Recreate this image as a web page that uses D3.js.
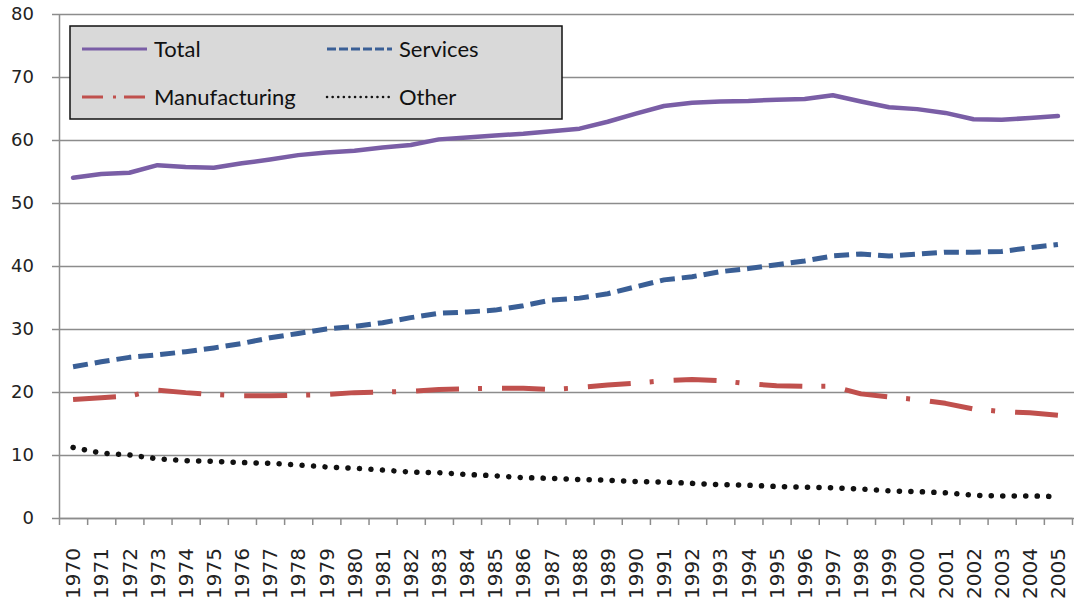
<!DOCTYPE html>
<html>
<head>
<meta charset="utf-8">
<script src="https://cdn.jsdelivr.net/npm/d3@7"></script>
<style>
  html, body { margin: 0; padding: 0; background: #fff; }
  svg { display: block; }
</style>
</head>
<body>
<div id="chart"></div>
<script>
(function() {
  var years = d3.range(1970, 2006).map(String);

  var total = [54.0, 54.6, 54.8, 56.0, 55.7, 55.6, 56.3, 56.9, 57.6, 58.0, 58.3, 58.8,
               59.2, 60.1, 60.4, 60.7, 61.0, 61.4, 61.8, 62.9, 64.2, 65.4, 65.9, 66.1,
               66.2, 66.4, 66.5, 67.1, 66.1, 65.2, 64.9, 64.3, 63.3, 63.2, 63.5, 63.8];
  var services = [24.0, 24.8, 25.5, 25.9, 26.4, 27.0, 27.7, 28.6, 29.3, 30.0, 30.4, 31.0,
                  31.8, 32.5, 32.7, 33.0, 33.7, 34.6, 34.9, 35.6, 36.7, 37.8, 38.3, 39.1,
                  39.6, 40.2, 40.8, 41.6, 41.9, 41.6, 41.9, 42.2, 42.2, 42.3, 42.9, 43.4];
  var manufacturing = [18.8, 19.1, 19.4, 20.3, 19.9, 19.6, 19.4, 19.4, 19.5, 19.6, 19.9, 20.0,
                       20.1, 20.4, 20.5, 20.6, 20.6, 20.4, 20.7, 21.1, 21.4, 21.8, 22.0, 21.8,
                       21.3, 21.0, 20.9, 20.9, 19.7, 19.2, 18.8, 18.2, 17.3, 16.9, 16.7, 16.3];
  var other = [11.2, 10.3, 10.0, 9.4, 9.1, 9.0, 8.8, 8.7, 8.4, 8.1, 7.9, 7.6,
               7.3, 7.2, 6.9, 6.7, 6.4, 6.3, 6.1, 6.0, 5.8, 5.7, 5.5, 5.3,
               5.2, 5.0, 4.9, 4.8, 4.6, 4.3, 4.2, 4.0, 3.6, 3.5, 3.5, 3.4];
  var yTicks = [0, 10, 20, 30, 40, 50, 60, 70, 80];

  var series = [
    { name: "Total", values: total, color: "#7a5ea6", dash: null, cap: "round", width: 4.5 },
    { name: "Services", values: services, color: "#3a5f96", dash: "15,7", cap: "butt", width: 5 },
    { name: "Manufacturing", values: manufacturing, color: "#c0504d", dash: "43,19,4,20", cap: "butt", width: 5 },
    { name: "Other", values: other, color: "#111", dash: "0.1,11.4", cap: "round", width: 5.5 }
  ];

  var width = 1076, height = 605,
      left = 59, right = 1072, top = 14, bottom = 518;

  var svg = d3.select("#chart").append("svg")
      .attr("width", width)
      .attr("height", height);

  var x = d3.scaleBand().domain(years).range([left, right]);
  var xEdge = d3.scaleLinear().domain([0, years.length]).range([left, right]);
  var y = d3.scaleLinear().domain([0, 80]).range([bottom, top]);

  // gridlines
  svg.append("g")
      .attr("transform", "translate(" + left + ",0)")
      .call(d3.axisLeft(y).tickValues(yTicks).tickSize(-(right - left + 2)).tickFormat(""))
      .call(g => g.select(".domain").remove())
      .call(g => g.selectAll("line").attr("stroke", "#8c8c8c").attr("stroke-width", 1.5));

  // y axis
  svg.append("g")
      .attr("transform", "translate(" + left + ",0)")
      .call(d3.axisLeft(y).tickValues(yTicks).tickSize(7).tickPadding(18).tickSizeOuter(0))
      .call(g => g.select(".domain").attr("stroke", "#8c8c8c").attr("stroke-width", 1.5))
      .call(g => g.selectAll("line").attr("stroke", "#8c8c8c").attr("stroke-width", 1.5))
      .call(g => g.selectAll("text")
          .attr("font-family", "DejaVu Sans, sans-serif")
          .attr("font-size", "18px")
          .attr("fill", "#222"));

  // x axis tick marks at category edges
  svg.append("g")
      .attr("transform", "translate(0," + bottom + ")")
      .call(d3.axisBottom(xEdge).tickValues(d3.range(0, years.length + 1)).tickFormat("").tickSize(7).tickSizeOuter(0))
      .call(g => g.select(".domain").attr("stroke", "#8c8c8c").attr("stroke-width", 1.5))
      .call(g => g.selectAll("line").attr("stroke", "#8c8c8c").attr("stroke-width", 1.5));

  // x labels, rotated
  svg.append("g")
    .selectAll("text")
    .data(years)
    .join("text")
      .attr("transform", d => "translate(" + (x(d) + x.bandwidth() / 2) + ",548) rotate(-90)")
      .attr("text-anchor", "end")
      .attr("dy", "0.36em")
      .attr("font-family", "DejaVu Sans, sans-serif")
      .attr("font-size", "20px")
      .attr("fill", "#222")
      .text(d => d);

  var line = d3.line()
      .x((d, i) => x(years[i]) + x.bandwidth() / 2)
      .y(d => y(d));

  svg.append("g")
    .selectAll("path")
    .data(series)
    .join("path")
      .attr("d", d => line(d.values))
      .attr("fill", "none")
      .attr("stroke", d => d.color)
      .attr("stroke-width", d => d.width)
      .attr("stroke-dasharray", d => d.dash)
      .attr("stroke-linecap", d => d.cap)
      .attr("stroke-linejoin", "round");

  // legend
  var legend = svg.append("g").attr("transform", "translate(70,26)");
  legend.append("rect")
      .attr("width", 492)
      .attr("height", 93)
      .attr("fill", "#d9d9d9")
      .attr("stroke", "#111")
      .attr("stroke-width", 1.5);

  var legendDash = { "Total": null, "Services": "9,3", "Manufacturing": "21,10,3,8", "Other": "0.1,5.5" };
  var items = legend.selectAll("g.item")
    .data(series)
    .join("g")
      .attr("class", "item")
      .attr("transform", (d, i) => "translate(" + (i % 2 ? 257 : 12) + "," + (i < 2 ? 23 : 71) + ")");

  items.append("line")
      .attr("x1", 0).attr("x2", 65)
      .attr("stroke", d => d.color)
      .attr("stroke-width", d => d.name == "Other" ? 2.5 : 3)
      .attr("stroke-dasharray", d => legendDash[d.name])
      .attr("stroke-linecap", d => d.name == "Other" ? "round" : "butt");

  items.append("text")
      .attr("x", 72)
      .attr("dy", "0.36em")
      .attr("font-family", "Lato, sans-serif")
      .attr("font-size", "22px")
      .attr("fill", "#111")
      .text(d => d.name);
})();
</script>
</body>
</html>
